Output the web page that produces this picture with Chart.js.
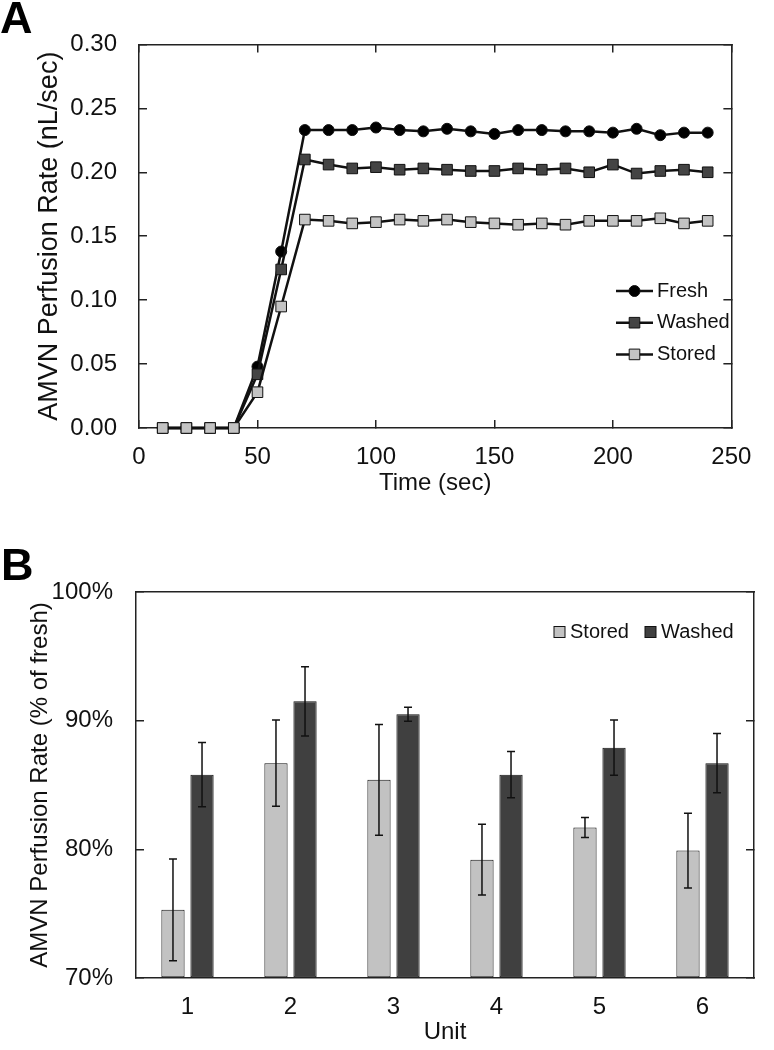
<!DOCTYPE html>
<html lang="en">
<head>
<meta charset="UTF-8">
<title>AMVN Perfusion Rate</title>
<script src="https://cdn.jsdelivr.net/npm/chart.js@4.4.1/dist/chart.umd.min.js"></script>
<style>
    body { margin: 0; background: #fff; font-family: "Liberation Sans", Arial, sans-serif; }
    #page { position: relative; width: 774px; height: 1050px; overflow: hidden; }
    canvas { position: absolute; left: 0; }
    #chartA { top: 0; }
    #chartB { top: 520px; }
    .panel { position: absolute; font-weight: bold; font-size: 45px; line-height: 1; color: #000; }
</style>
</head>
<body>
<div id="page">
    <canvas id="chartA" width="774" height="520"></canvas>
    <canvas id="chartB" width="774" height="530"></canvas>
    <div class="panel" style="left:0; top:-5px">A</div>
    <div class="panel" style="left:1px; top:542px">B</div>
</div>

<script>
    // Panel A: perfusion rate over time
    const timeSec = [10, 20, 30, 40, 50, 60, 70, 80, 90, 100, 110, 120,
                     130, 140, 150, 160, 170, 180, 190, 200, 210, 220, 230, 240];
    const freshRate = [0, 0, 0, 0, 0.048, 0.138, 0.233, 0.233, 0.233, 0.235, 0.233, 0.232,
                       0.234, 0.232, 0.230, 0.233, 0.233, 0.232, 0.232, 0.231, 0.234, 0.229, 0.231, 0.231];
    const washedRate = [0, 0, 0, 0, 0.042, 0.124, 0.210, 0.206, 0.203, 0.204, 0.202, 0.203,
                        0.202, 0.201, 0.201, 0.203, 0.202, 0.203, 0.200, 0.206, 0.199, 0.201, 0.202, 0.200];
    const storedRate = [0, 0, 0, 0, 0.028, 0.095, 0.163, 0.162, 0.160, 0.161, 0.163, 0.162,
                        0.163, 0.161, 0.160, 0.159, 0.160, 0.159, 0.162, 0.162, 0.162, 0.164, 0.160, 0.162];

    // Panel B: perfusion rate relative to fresh, per unit
    const units = ['1', '2', '3', '4', '5', '6'];
    const storedPct = [75.3, 86.7, 85.4, 79.2, 81.7, 79.9];
    const storedErr = [3.95, 3.35, 4.3, 2.75, 0.78, 2.9];
    const washedPct = [85.8, 91.5, 90.5, 85.8, 87.9, 86.7];
    const washedErr = [2.5, 2.7, 0.55, 1.8, 2.15, 2.3];

    const FONT = '"Liberation Sans", Arial, sans-serif';
    const INK = '#111';
    const AXIS = '#222';

    Chart.defaults.font.family = FONT;
    Chart.defaults.color = INK;

    const tickGrid = {
        drawOnChartArea: false, drawTicks: true, tickLength: -8,
        color: AXIS, lineWidth: 1.5, tickColor: AXIS, tickWidth: 1.5
    };
    const noTickGrid = { drawOnChartArea: false, drawTicks: false, color: AXIS };
    const frame = { display: true, color: AXIS, width: 1.5 };

    // legend drawn inside the plot area
    const insideLegend = {
        id: 'insideLegend',
        afterDraw(chart, args, opts) {
            const ctx = chart.ctx;
            ctx.save();
            ctx.font = opts.font;
            ctx.textBaseline = 'middle';
            chart.data.datasets.forEach((ds, i) => {
                const x = opts.x + (opts.dx || 0) * i;
                const y = opts.y + (opts.dy || 0) * i;
                let textX;
                if (opts.line) {
                    ctx.strokeStyle = ds.borderColor;
                    ctx.lineWidth = ds.borderWidth;
                    ctx.beginPath();
                    ctx.moveTo(x, y);
                    ctx.lineTo(x + opts.line, y);
                    ctx.stroke();
                    ctx.fillStyle = ds.pointBackgroundColor;
                    ctx.strokeStyle = ds.pointBorderColor;
                    ctx.lineWidth = ds.pointBorderWidth;
                    Chart.helpers.drawPoint(ctx, {
                        pointStyle: ds.pointStyle, radius: ds.pointRadius,
                        borderWidth: ds.pointBorderWidth, rotation: 0
                    }, x + opts.line / 2, y);
                    textX = x + opts.line + opts.gap;
                } else {
                    ctx.fillStyle = ds.backgroundColor;
                    ctx.strokeStyle = ds.borderColor;
                    ctx.lineWidth = 1;
                    ctx.fillRect(x, y - opts.box / 2, opts.box, opts.box);
                    ctx.strokeRect(x, y - opts.box / 2, opts.box, opts.box);
                    textX = x + opts.box + opts.gap;
                }
                ctx.fillStyle = INK;
                ctx.fillText(ds.label, textX, y);
            });
            ctx.restore();
        }
    };

    const errorBars = {
        id: 'errorBars',
        afterDatasetsDraw(chart) {
            const ctx = chart.ctx;
            const yScale = chart.scales.y;
            ctx.save();
            ctx.strokeStyle = INK;
            ctx.lineWidth = 1.5;
            chart.data.datasets.forEach((ds, i) => {
                chart.getDatasetMeta(i).data.forEach((bar, j) => {
                    const top = yScale.getPixelForValue(ds.data[j] + ds.errors[j]);
                    const bot = yScale.getPixelForValue(ds.data[j] - ds.errors[j]);
                    ctx.beginPath();
                    ctx.moveTo(bar.x, top); ctx.lineTo(bar.x, bot);
                    ctx.moveTo(bar.x - 4, top); ctx.lineTo(bar.x + 4, top);
                    ctx.moveTo(bar.x - 4, bot); ctx.lineTo(bar.x + 4, bot);
                    ctx.stroke();
                });
            });
            ctx.restore();
        }
    };

    function lineSeries(label, values, style, radius, fill, order) {
        return {
            label: label,
            order: order,
            data: timeSec.map((t, i) => ({ x: t, y: values[i] })),
            borderColor: INK,
            borderWidth: 2.5,
            pointStyle: style,
            pointRadius: radius,
            pointBackgroundColor: fill,
            pointBorderColor: INK,
            pointBorderWidth: 1,
            tension: 0,
            clip: false
        };
    }

    new Chart(document.getElementById('chartA'), {
        type: 'line',
        data: {
            datasets: [
                lineSeries('Fresh', freshRate, 'circle', 5.5, '#000', 3),
                lineSeries('Washed', washedRate, 'rect', 7.5, '#444', 2),
                lineSeries('Stored', storedRate, 'rect', 7.5, '#c3c3c3', 1)
            ]
        },
        options: {
            responsive: false,
            animation: false,
            events: [],
            layout: { padding: { left: 0, top: 43, right: 22, bottom: 0 } },
            plugins: {
                legend: { display: false },
                tooltip: { enabled: false },
                insideLegend: { x: 616, y: 291, dy: 31.7, line: 37, gap: 4, font: '20px ' + FONT }
            },
            scales: {
                x: {
                    type: 'linear', min: 0, max: 250,
                    ticks: { stepSize: 50, padding: 22.6, font: { size: 24 } },
                    grid: tickGrid, border: frame,
                    title: { display: true, text: 'Time (sec)', font: { size: 24 }, padding: { top: 0, bottom: 22 } },
                    afterFit: s => { s.height = 92; }
                },
                x2: {
                    type: 'linear', position: 'top', min: 0, max: 250,
                    ticks: { stepSize: 50, display: false },
                    grid: tickGrid, border: frame,
                    afterFit: s => { s.height = 0; }
                },
                y: {
                    type: 'linear', min: 0, max: 0.3,
                    ticks: { stepSize: 0.05, padding: 30, font: { size: 24 }, callback: v => v.toFixed(2) },
                    grid: tickGrid, border: frame,
                    title: { display: true, text: 'AMVN Perfusion Rate (nL/sec)', font: { size: 27 }, padding: { top: 33, bottom: 0 } },
                    afterFit: s => { s.width = 139; }
                },
                y2: {
                    type: 'linear', position: 'right', min: 0, max: 0.3,
                    ticks: { stepSize: 0.05, display: false },
                    grid: tickGrid, border: frame,
                    afterFit: s => { s.width = 0; }
                }
            }
        },
        plugins: [insideLegend]
    });

    new Chart(document.getElementById('chartB'), {
        type: 'bar',
        data: {
            labels: units,
            datasets: [
                {
                    label: 'Stored', data: storedPct, errors: storedErr, base: 70,
                    backgroundColor: '#c2c2c2', borderColor: '#111', borderWidth: 1, borderSkipped: false,
                    categoryPercentage: 0.564, barPercentage: 0.8
                },
                {
                    label: 'Washed', data: washedPct, errors: washedErr, base: 70,
                    backgroundColor: '#404040', borderColor: '#111', borderWidth: 1, borderSkipped: false,
                    categoryPercentage: 0.564, barPercentage: 0.8
                }
            ]
        },
        options: {
            responsive: false,
            animation: false,
            events: [],
            layout: { padding: { left: 0, top: 72, right: 20, bottom: 0 } },
            plugins: {
                legend: { display: false },
                tooltip: { enabled: false },
                insideLegend: { x: 554, y: 112, dx: 91, box: 11, gap: 5, font: '20px ' + FONT }
            },
            scales: {
                x: {
                    type: 'category',
                    ticks: { padding: 15.4, font: { size: 24 } },
                    grid: noTickGrid, border: frame,
                    title: { display: true, text: 'Unit', font: { size: 24 }, padding: { top: 0, bottom: 3 } },
                    afterFit: s => { s.height = 72; }
                },
                x2: {
                    type: 'category', position: 'top',
                    ticks: { display: false },
                    grid: noTickGrid, border: frame,
                    afterFit: s => { s.height = 0; }
                },
                y: {
                    type: 'linear', min: 70, max: 100,
                    ticks: { stepSize: 10, padding: 31, font: { size: 24 }, callback: v => v + '%' },
                    grid: tickGrid, border: frame,
                    title: { display: true, text: 'AMVN Perfusion Rate (% of fresh)', font: { size: 24 }, padding: { top: 26, bottom: 0 } },
                    afterFit: s => { s.width = 136; }
                },
                y2: {
                    type: 'linear', position: 'right', min: 70, max: 100,
                    ticks: { stepSize: 10, display: false },
                    grid: tickGrid, border: frame,
                    afterFit: s => { s.width = 0; }
                }
            }
        },
        plugins: [insideLegend, errorBars]
    });
</script>
</body>
</html>
